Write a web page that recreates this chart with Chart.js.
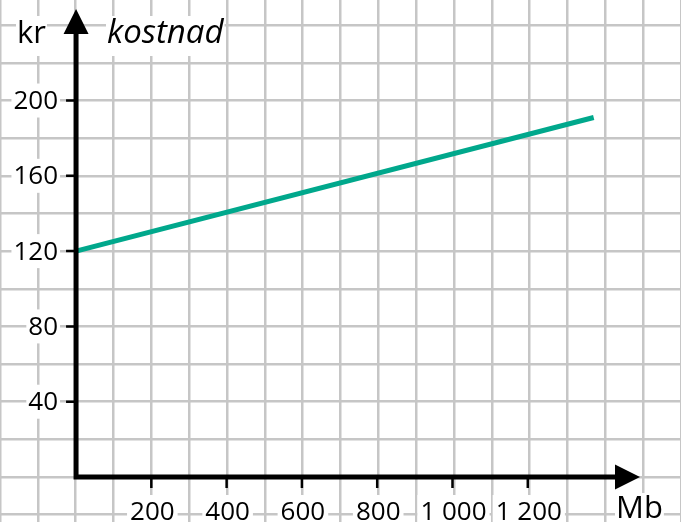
<!DOCTYPE html>
<html>
<head>
<meta charset="utf-8">
<script src="https://cdn.jsdelivr.net/npm/chart.js@4"></script>
<style>
  body { margin: 0; background: #fff; }
  canvas { display: block; }
</style>
</head>
<body>
<canvas id="myChart" width="681" height="522"></canvas>
<script>
// Data
const mbValues = [0, 1375];
const krValues = [120, 191];
const yTickValues = [40, 80, 120, 160, 200];
const xTickValues = [200, 400, 600, 800, 1000, 1200];
const xTickLabels = ['200', '400', '600', '800', '1 000', '1 200'];

const FONT = '"Open Sans", "DejaVu Sans", sans-serif';

// Text with a white box behind it, like the labels in the original
function boxedText(ctx, text, x, y, align, baseline, font, box) {
    ctx.font = font;
    ctx.textAlign = align;
    ctx.textBaseline = baseline;
    const w = ctx.measureText(text).width;
    let left = x;
    if (align === 'right') left = x - w;
    if (align === 'center') left = x - w / 2;
    ctx.fillStyle = '#fff';
    ctx.fillRect(left - box.padX, box.top, w + box.padX * 2, box.height);
    ctx.fillStyle = '#000';
    ctx.fillText(text, x, y);
}

const axesPlugin = {
    id: 'axes',
    afterDraw(chart) {
        const { ctx, scales: { x, y } } = chart;
        const ox = x.getPixelForValue(0);
        const oy = y.getPixelForValue(0);
        ctx.save();

        // y tick labels
        yTickValues.forEach(v => {
            const py = y.getPixelForValue(v);
            boxedText(ctx, String(v), ox - 18, py + 1, 'right', 'middle', '26px ' + FONT,
                { padX: 2, top: py - 17, height: 34 });
        });
        // x tick labels
        xTickValues.forEach((v, i) => {
            const px = x.getPixelForValue(v);
            boxedText(ctx, xTickLabels[i], px + 1, oy + 43, 'center', 'alphabetic', '26px ' + FONT,
                { padX: 3, top: oy + 18, height: 40 });
        });

        // axis titles
        boxedText(ctx, 'kr', 17, 43, 'left', 'alphabetic', '31px ' + FONT,
            { padX: 1, top: 16, height: 40 });
        boxedText(ctx, 'kostnad', 107, 43, 'left', 'alphabetic', 'italic 33px ' + FONT,
            { padX: 1, top: 16, height: 40 });
        boxedText(ctx, 'Mb', 616, oy + 41, 'left', 'alphabetic', '31px ' + FONT,
            { padX: 1, top: oy + 16, height: 40 });

        // tick marks
        ctx.strokeStyle = '#000';
        ctx.lineWidth = 2.5;
        ctx.beginPath();
        yTickValues.forEach(v => {
            const py = y.getPixelForValue(v);
            ctx.moveTo(ox - 10, py);
            ctx.lineTo(ox, py);
        });
        xTickValues.forEach(v => {
            const px = x.getPixelForValue(v);
            ctx.moveTo(px, oy);
            ctx.lineTo(px, oy + 11);
        });
        ctx.stroke();

        // axes
        ctx.lineWidth = 5;
        ctx.beginPath();
        ctx.moveTo(ox, oy + 2.5);
        ctx.lineTo(ox, 30);
        ctx.moveTo(ox - 2.5, oy);
        ctx.lineTo(620, oy);
        ctx.stroke();

        // arrow heads
        ctx.fillStyle = '#000';
        ctx.beginPath();
        ctx.moveTo(ox, 9);
        ctx.lineTo(ox + 12.5, 34);
        ctx.lineTo(ox - 12.5, 34);
        ctx.closePath();
        ctx.moveTo(640, oy);
        ctx.lineTo(615, oy - 12.5);
        ctx.lineTo(615, oy + 12.5);
        ctx.closePath();
        ctx.fill();

        ctx.restore();
    }
};

const gridStyle = {
    color: '#c6c6c6',
    lineWidth: 2.5,
    drawTicks: false
};

const ctx = document.getElementById('myChart').getContext('2d');
const myChart = new Chart(ctx, {
    type: 'line',
    data: {
        datasets: [{
            data: mbValues.map((m, i) => ({ x: m, y: krValues[i] })),
            borderColor: '#00a88c',
            borderWidth: 5,
            borderCapStyle: 'butt',
            pointRadius: 0,
            fill: false
        }]
    },
    options: {
        responsive: false,
        animation: false,
        devicePixelRatio: 1,
        layout: { padding: 0 },
        plugins: {
            legend: { display: false },
            tooltip: { enabled: false }
        },
        scales: {
            x: {
                type: 'linear',
                min: -202,
                max: 1607,
                ticks: { display: false, stepSize: 100, includeBounds: false },
                grid: gridStyle,
                border: { display: false }
            },
            y: {
                type: 'linear',
                min: -23.9,
                max: 253.4,
                ticks: { display: false, stepSize: 20, includeBounds: false },
                grid: gridStyle,
                border: { display: false }
            }
        }
    },
    plugins: [axesPlugin]
});
</script>
</body>
</html>
